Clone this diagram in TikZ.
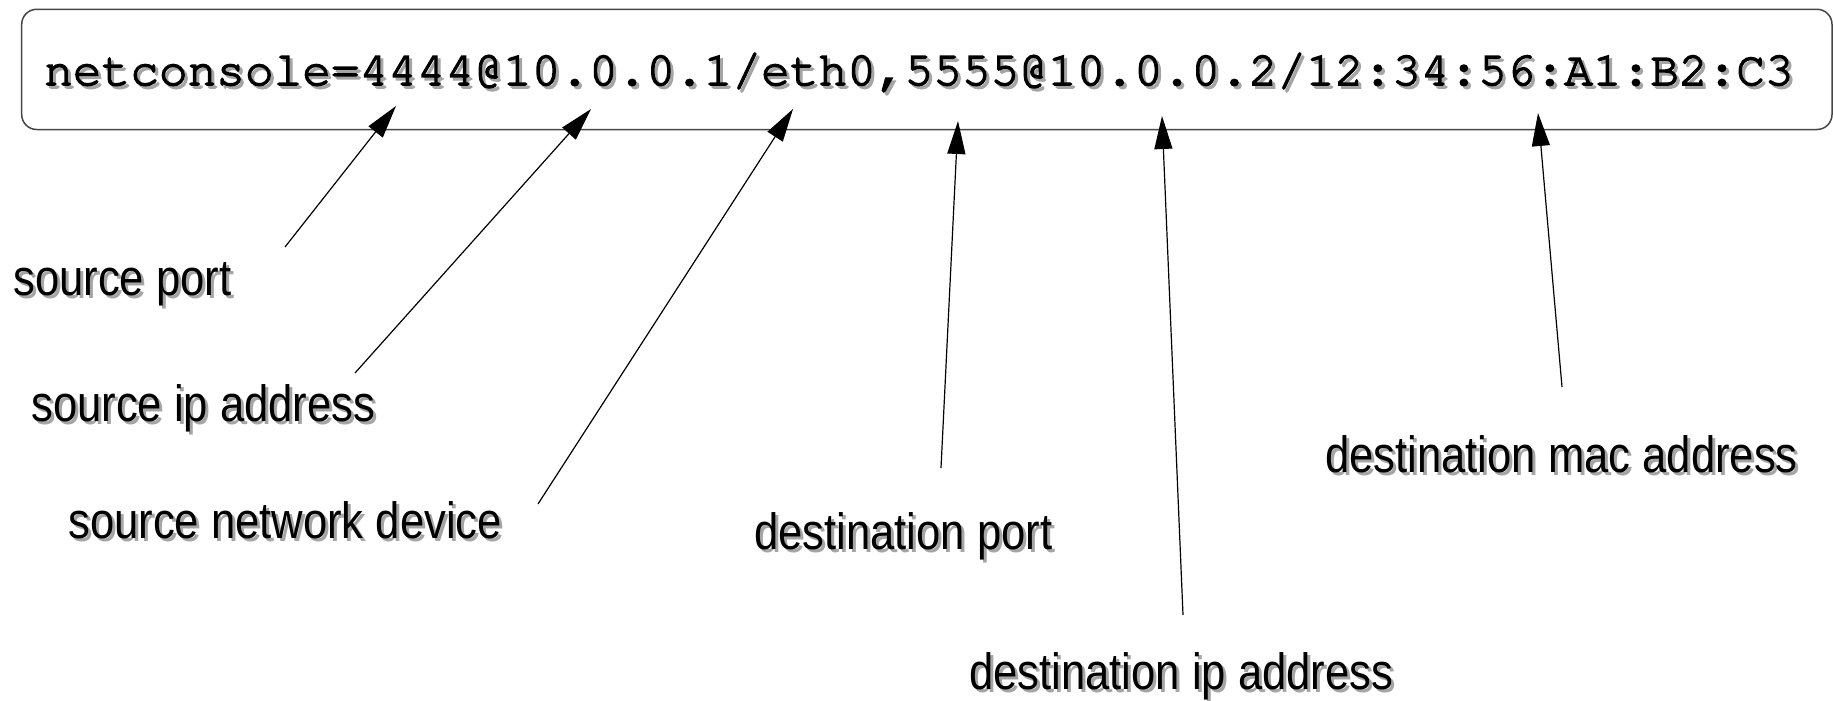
\documentclass[tikz,border=0pt]{standalone}
\usepackage[T1]{fontenc}
\usepackage{fontspec}
\usetikzlibrary{arrows.meta}
\newfontfamily\lblfont[FakeStretch=0.855]{Liberation Sans}
\definecolor{shadowgray}{RGB}{165,165,165}
\definecolor{boxgray}{RGB}{70,70,70}
\newcommand\shtext[2]{\makebox[0pt][l]{\hspace{#1}\raisebox{-#1}{\textcolor{shadowgray}{#2}}}#2}
\newcommand\heavy[1]{\special{pdf:literal direct 2 Tr 1.5 w}#1\special{pdf:literal direct 0 Tr}}
\newcommand\monofont{\fontencoding{T1}\fontfamily{pcr}\fontseries{m}\fontsize{47.8}{52}\selectfont}
\tikzset{
  lbl/.style={anchor=base west, inner sep=0pt, font=\lblfont\fontsize{51}{56}\selectfont},
  pointer/.style={draw=black, line width=1.2pt, -{Triangle[length=33pt,width=18pt]}},
  cmdbox/.style={draw=boxgray, line width=1.5pt, rounded corners=15pt, inner sep=0pt}
}
\begin{document}
\begin{tikzpicture}[x=1pt,y=-1pt]
\useasboundingbox (0,0) rectangle (1833,701);
\draw[cmdbox] (21.7,9.3) rectangle (1832,129.5);
\node[anchor=base west, inner sep=0pt, font=\monofont] (cmd) at (44,85)
  {\heavy{\shtext{3pt}{netconsole=4444@10.0.0.1/eth0,5555@10.0.0.2/12:34:56:A1:B2:C3}}};
\node[lbl] (sp)  at (13,295)   {\shtext{3pt}{source port}};
\node[lbl] (sip) at (31,421)   {\shtext{3pt}{source ip address}};
\node[lbl] (snd) at (68,538)   {\shtext{3pt}{source network device}};
\node[lbl] (dp)  at (754,549)  {\shtext{3pt}{destination port}};
\node[lbl] (dip) at (969,689)  {\shtext{3pt}{destination ip address}};
\node[lbl] (dma) at (1325,472) {\shtext{3pt}{destination mac address}};
\coordinate (t1) at (396,106);
\coordinate (t2) at (591,109);
\coordinate (t3) at (793,109);
\coordinate (t4) at (958,121);
\coordinate (t5) at (1162,116);
\coordinate (t6) at (1538,113);
\coordinate (s1) at (285,247);
\coordinate (s2) at (355,373);
\coordinate (s3) at (538,504);
\coordinate (s4) at (941,468);
\coordinate (s5) at (1183,615);
\coordinate (s6) at (1562,387);
\draw[pointer] (s1) -- (t1);
\draw[pointer] (s2) -- (t2);
\draw[pointer] (s3) -- (t3);
\draw[pointer] (s4) -- (t4);
\draw[pointer] (s5) -- (t5);
\draw[pointer] (s6) -- (t6);
\end{tikzpicture}
\end{document}
